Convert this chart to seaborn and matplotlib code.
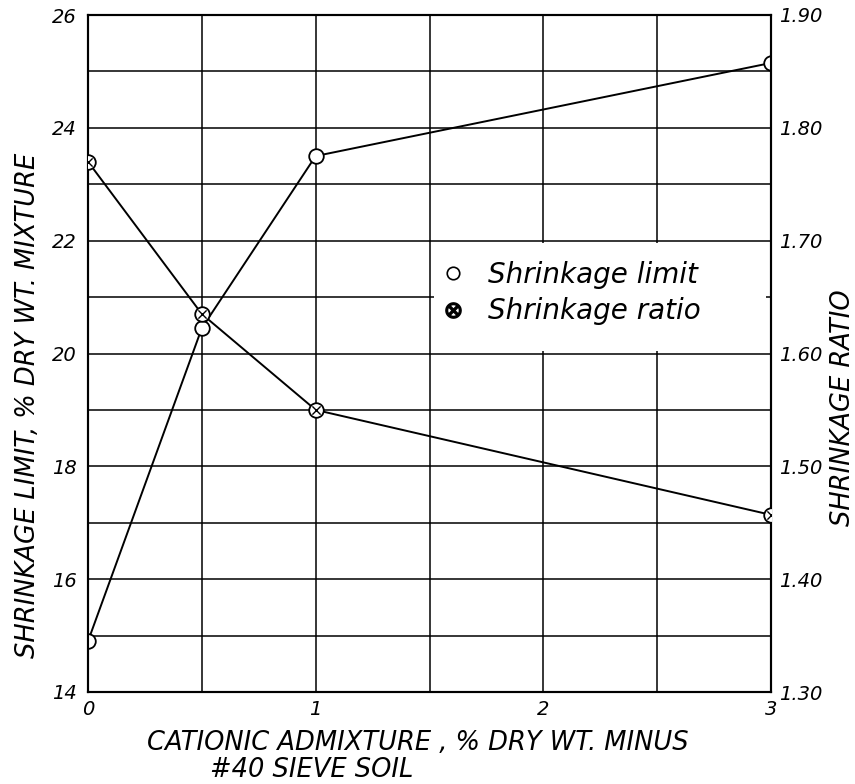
import numpy as np
import pandas as pd
import matplotlib
matplotlib.use("Agg")
import matplotlib.pyplot as plt
from matplotlib.lines import Line2D
from matplotlib.patches import Rectangle
from matplotlib.ticker import MultipleLocator, FixedLocator
import seaborn as sns

# Cationic admixture (% dry wt. of minus #40 sieve soil)
admixture = [0, 0.5, 1, 3]
# Shrinkage limit, % dry wt. of mixture (left axis)
shrinkage_limit = [14.9, 20.45, 23.5, 25.15]
# Shrinkage ratio (right axis)
shrinkage_ratio = [1.77, 1.635, 1.55, 1.457]

x_ticks = [0, 1, 2, 3]
left_ticks = [14, 16, 18, 20, 22, 24, 26]
right_ticks = [1.30, 1.40, 1.50, 1.60, 1.70, 1.80, 1.90]
right_labels = ["1.30", "1.40", "1.50", "1.60", "1.70", "1.80", "1.90"]

df = pd.DataFrame({"admixture": admixture,
                   "limit": shrinkage_limit,
                   "ratio": shrinkage_ratio})

sns.set_theme(style="white")
plt.rcParams["font.family"] = ["DejaVu Sans"]
plt.rcParams["text.color"] = "black"
plt.rcParams["xtick.color"] = "black"
plt.rcParams["ytick.color"] = "black"

W, H = 855, 784
fig = plt.figure(figsize=(W / 100, H / 100), dpi=100)
x0, x1, y0, y1 = 88, 771, 15, 692
ax = fig.add_axes([x0 / W, 1 - y1 / H, (x1 - x0) / W, (y1 - y0) / H])
ax2 = ax.twinx()

ax.set_xlim(0, 3)
ax.set_ylim(14, 26)
ax2.set_ylim(1.30, 1.90)

# grid: every 0.5 on x, every 1 unit on the left scale
ax.xaxis.set_major_locator(FixedLocator(x_ticks))
ax.xaxis.set_minor_locator(MultipleLocator(0.5))
ax.yaxis.set_major_locator(FixedLocator(left_ticks))
ax.yaxis.set_minor_locator(MultipleLocator(1))
ax.set_axisbelow(True)
ax.grid(which="both", color="black", linewidth=1.1)
ax2.yaxis.set_major_locator(FixedLocator(right_ticks))
ax2.grid(False)

for a in (ax, ax2):
    for s in a.spines.values():
        s.set_color("black")
        s.set_linewidth(1.5)
    a.tick_params(which="both", length=0, colors="black")

tick_font = dict(fontsize=14, fontstyle="italic", color="black")
ax.set_xticklabels([str(v) for v in x_ticks], **tick_font)
ax.set_yticklabels([str(v) for v in left_ticks], **tick_font)
ax2.set_yticklabels(right_labels, **tick_font)
ax.tick_params(axis="x", pad=6)
ax.tick_params(axis="y", pad=8)
ax2.tick_params(axis="y", pad=6)

# clear space in the grid behind the key
ax.add_patch(Rectangle((1.52, 20.04), 1.46, 1.92, facecolor="white",
                       edgecolor="none", zorder=1))

line_kw = dict(color="black", linewidth=1.4, marker="o", markersize=10.5,
               markerfacecolor="white", markeredgecolor="black",
               markeredgewidth=1.3)
sns.lineplot(data=df, x="admixture", y="limit", ax=ax, zorder=3, **line_kw)
sns.lineplot(data=df, x="admixture", y="ratio", ax=ax2, zorder=3, **line_kw)
sns.scatterplot(data=df, x="admixture", y="ratio", ax=ax2, marker="x",
                s=35, color="black", linewidth=1.0, zorder=4)

ax.set_xlabel("")
ax.set_ylabel("")
ax2.set_ylabel("")

label_font = dict(fontsize=18.5, fontstyle="italic", color="black")
fig.text(28 / W, 1 - 405 / H, "SHRINKAGE LIMIT, % DRY WT. MIXTURE",
         rotation=90, ha="center", va="center", **label_font)
fig.text(843 / W, 1 - 408 / H, "SHRINKAGE RATIO",
         rotation=90, ha="center", va="center", **label_font)
fig.text(418 / W, 1 - 743 / H, "CATIONIC ADMIXTURE , % DRY WT. MINUS",
         ha="center", va="center", **label_font)
fig.text(312 / W, 1 - 770 / H, "#40 SIEVE SOIL",
         ha="center", va="center", **label_font)

handles = [
    Line2D([], [], linestyle="none", marker="o", markersize=9,
           markerfacecolor="white", markeredgecolor="black", markeredgewidth=1.2),
    Line2D([], [], linestyle="none", marker="$\\otimes$", markersize=11,
           color="black"),
]
leg = ax2.legend(handles, ["Shrinkage limit", "Shrinkage ratio"],
                 loc="upper left",
                 bbox_to_anchor=((439 - x0) / (x1 - x0), 1 - (261 - y0) / (y1 - y0)),
                 frameon=False, handlelength=1.0, handletextpad=0.76,
                 labelspacing=0.3, borderpad=0, borderaxespad=0,
                 prop=dict(size=20, style="italic"))
for t in leg.get_texts():
    t.set_color("black")

fig.savefig("out.png", dpi=100, facecolor="white")
